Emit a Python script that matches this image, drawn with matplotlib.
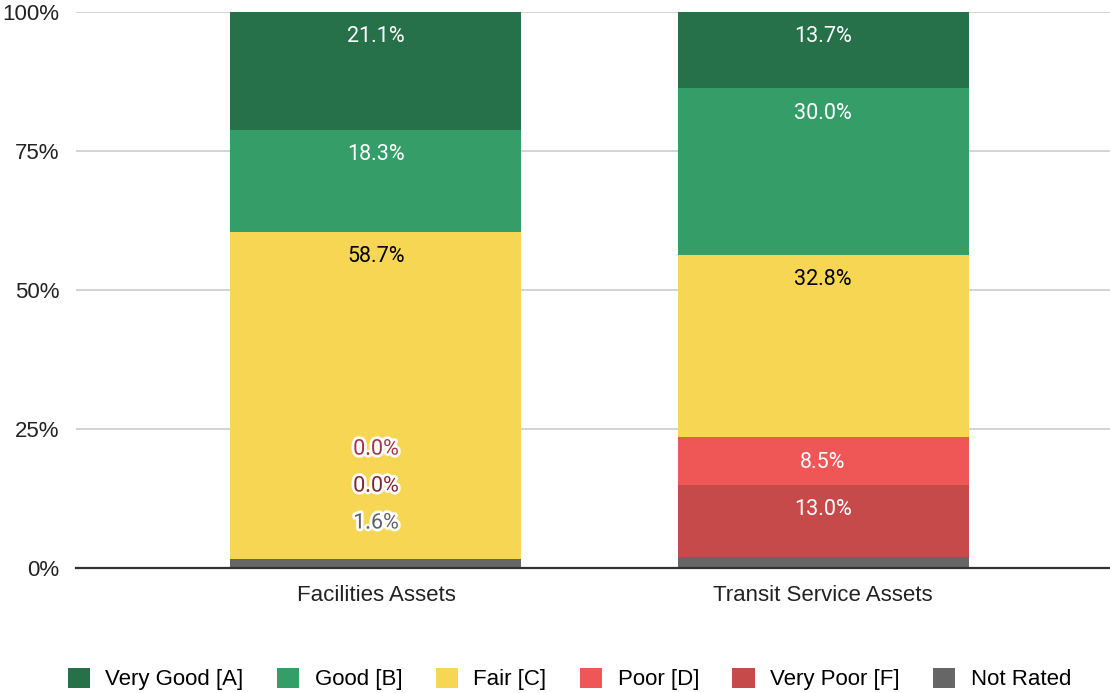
import matplotlib.pyplot as plt
import matplotlib.patheffects as pe
from matplotlib.patches import Patch
from matplotlib.ticker import FuncFormatter

# данные
categories = ['Facilities Assets', 'Transit Service Assets']
series = ['Not Rated', 'Very Poor [F]', 'Poor [D]', 'Fair [C]', 'Good [B]', 'Very Good [A]']
not_rated = [1.6, 2.0]
very_poor = [0.0, 13.0]
poor = [0.0, 8.5]
fair = [58.7, 32.8]
good = [18.3, 30.0]
very_good = [21.1, 13.7]
yticks = [0, 25, 50, 75, 100]

values = [not_rated, very_poor, poor, fair, good, very_good]
colors = ['#666666', '#c64a4a', '#ef5656', '#f7d654', '#349d68', '#26704a']
text_colors = ['white', 'white', 'white', 'black', 'white', 'white']
small_colors = ['#5f6368', '#7d2735', '#9e3448']

# стек 100%: нормируем высоты по сумме каждого столбца
totals = [sum(v[i] for v in values) for i in range(len(categories))]

plt.rcParams['font.family'] = ['Liberation Sans', 'DejaVu Sans']

fig = plt.figure(figsize=(11.1, 6.93), dpi=100)
ax = fig.add_axes([0.0685, 0.1804, 0.9315, 0.8023])

x = list(range(len(categories)))
bottom = [0.0, 0.0]
for k, (name, vals) in enumerate(zip(series, values)):
    heights = [v / t * 100 for v, t in zip(vals, totals)]
    ax.bar(x, heights, width=0.651, bottom=bottom, color=colors[k], label=name, zorder=2)
    for i in x:
        top = bottom[i] + heights[i]
        if vals[i] >= 5:
            ax.annotate(f'{vals[i]:.1f}%', (i, top), xytext=(0, -18), textcoords='offset points',
                        ha='center', va='center', fontsize=15.5, family='Roboto',
                        color=text_colors[k], zorder=4)
        elif i == 0:
            # мелкие сегменты — подписи с белой обводкой стопкой вверх
            t = ax.annotate(f'{vals[i]:.1f}%', (i, 0), xytext=(0, 32.4 + 26.6 * k),
                            textcoords='offset points', ha='center', va='center',
                            fontsize=15.5, family='Roboto', color=small_colors[k], zorder=4)
            t.set_path_effects([pe.withStroke(linewidth=4, foreground='white')])
    bottom = [b + h for b, h in zip(bottom, heights)]

ax.set_xlim(-0.671, 1.642)
ax.set_ylim(0, 100)
ax.set_yticks(yticks)
ax.yaxis.set_major_formatter(FuncFormatter(lambda v, p: f'{v:.0f}%'))
ax.set_xticks(x)
ax.set_xticklabels(categories)
ax.tick_params(axis='both', length=0, labelsize=16, colors='#222222')
ax.tick_params(axis='y', pad=12)
ax.tick_params(axis='x', pad=12)
ax.grid(True, axis='y', color='#cccccc', linewidth=1.2, zorder=0)
for s in ['top', 'right', 'left']:
    ax.spines[s].set_visible(False)
ax.spines['bottom'].set_color('#333333')
ax.spines['bottom'].set_linewidth(1.6)
ax.spines['bottom'].set_zorder(3)

handles = [Patch(facecolor=colors[k], label=series[k]) for k in range(len(series) - 1, -1, -1)]
fig.legend(handles=handles, loc='center', bbox_to_anchor=(0.513, 0.02), ncol=6, frameon=False,
           fontsize=16, handlelength=1.0, handleheight=1.0, handletextpad=0.7, columnspacing=1.5)

plt.savefig('out.png', dpi=100)
plt.close()
